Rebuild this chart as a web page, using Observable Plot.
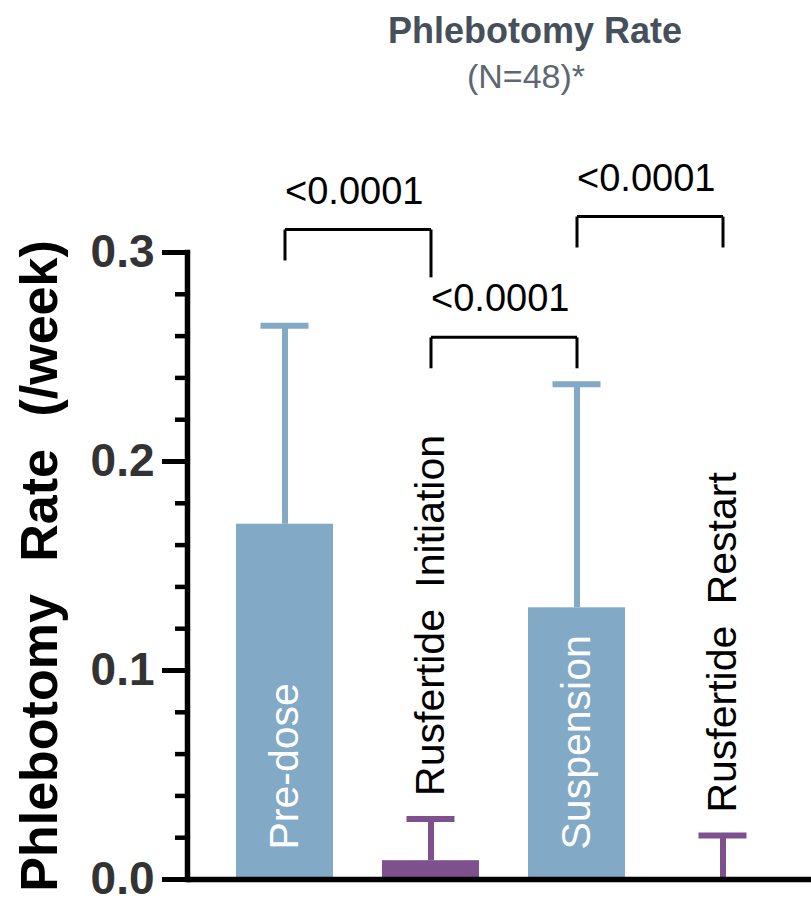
<!DOCTYPE html>
<html>
<head>
<meta charset="utf-8">
<script src="https://cdn.jsdelivr.net/npm/d3@7"></script>
<script src="https://cdn.jsdelivr.net/npm/@observablehq/plot@0.6"></script>
<style>
  html, body { margin: 0; padding: 0; background: #ffffff; }
  #wrap { position: relative; width: 811px; height: 899px; font-family: "Liberation Sans", Arial, sans-serif; }
  #header { position: relative; height: 100px; }
  #title { position: absolute; left: 535px; top: 13px; transform: translateX(-50%); white-space: nowrap;
           font-size: 36px; line-height: 36px; font-weight: bold; color: #46505b; }
  #subtitle { position: absolute; left: 526px; top: 59px; transform: translateX(-50%); white-space: nowrap;
              font-size: 34px; line-height: 34px; color: #5d6772; }
  #chart svg text { word-spacing: 10px; }
  #chart svg g[aria-label="y-axis label"] text { word-spacing: 18px; }
</style>
</head>
<body>
<div id="wrap">
  <div id="header">
    <div id="title">Phlebotomy Rate</div>
    <div id="subtitle">(N=48)*</div>
  </div>
  <div id="chart"></div>
</div>
<script>
// ---- data ----
const categories = ["Pre-dose", "Rusfertide Initiation", "Suspension", "Rusfertide Restart"];
const treatment  = ["Off", "Rusfertide", "Off", "Rusfertide"];
const meanRate   = [0.17, 0.009, 0.13, 0.0];
const upperRate  = [0.265, 0.029, 0.237, 0.021];

const yTicks = [0, 0.1, 0.2, 0.3];
const yMinorTicks = [0.02, 0.04, 0.06, 0.08, 0.12, 0.14, 0.16, 0.18, 0.22, 0.24, 0.26, 0.28];

// pairwise comparisons (brackets)
const compFrom   = ["Pre-dose", "Rusfertide Initiation", "Suspension"];
const compTo     = ["Rusfertide Initiation", "Suspension", "Rusfertide Restart"];
const compLabel  = ["<0.0001", "<0.0001", "<0.0001"];
const compTop    = [0.311, 0.2594, 0.3172];
const compFromEnd = [0.2962, 0.2446, 0.3024];
const compToEnd   = [0.2881, 0.2446, 0.3024];

const blue = "#82a9c6";
const purple = "#7e508d";

// ---- tables built from the arrays ----
const rows = categories.map((c, i) => ({
  category: c, treatment: treatment[i], mean: meanRate[i], upper: upperRate[i]
}));
const inside = rows.filter(d => d.mean >= 0.1);
const above = rows.filter(d => d.mean < 0.1);
const comps = compFrom.map((f, i) => ({
  from: f, to: compTo[i], label: compLabel[i], top: compTop[i], fromEnd: compFromEnd[i], toEnd: compToEnd[i]
}));

const chart = Plot.plot({
  width: 811,
  height: 799,
  marginLeft: 187,
  marginRight: 0,
  marginTop: 152,
  marginBottom: 20,
  style: {fontFamily: "'Liberation Sans', Arial, sans-serif", background: "#ffffff", overflow: "visible"},
  x: {domain: categories, range: [211, 796], paddingInner: 0.335, paddingOuter: 0.1675, axis: null},
  y: {domain: [0, 0.3]},
  color: {domain: ["Off", "Rusfertide"], range: [blue, purple]},
  marks: [
    Plot.barY(rows, {x: "category", y: "mean", fill: "treatment"}),
    Plot.ruleX(rows, {x: "category", y1: "mean", y2: "upper", stroke: "treatment", strokeWidth: 6}),
    Plot.tickY(rows, {x: "category", y: "upper", stroke: "treatment", strokeWidth: 6, insetLeft: 24.5, insetRight: 24.5}),
    Plot.axisY(yTicks, {
      tickSize: 25, tickPadding: 8, tickFormat: d3.format(".1f"),
      fontSize: 46, fontWeight: "bold", stroke: "#000", fill: "#333", strokeWidth: 5, label: null
    }),
    Plot.axisY(yMinorTicks, {tickSize: 12, tickFormat: () => "", stroke: "#000", strokeWidth: 4.5, label: null}),
    Plot.axisY([], {
      label: "Phlebotomy Rate (/week)", labelAnchor: "center", labelOffset: 167, labelArrow: false,
      fontSize: 52, fontWeight: "bold", fill: "#000", tickSize: 0
    }),
    Plot.frame({anchor: "left", stroke: "#000", strokeWidth: 5.5}),
    Plot.ruleY([0], {stroke: "#000", strokeWidth: 5.5}),
    // comparison brackets
    Plot.link(comps, {x1: "from", x2: "to", y1: "top", y2: "top", stroke: "#000", strokeWidth: 3}),
    Plot.link(comps, {x1: "from", x2: "from", y1: "fromEnd", y2: "top", stroke: "#000", strokeWidth: 3}),
    Plot.link(comps, {x1: "to", x2: "to", y1: "toEnd", y2: "top", stroke: "#000", strokeWidth: 3}),
    Plot.text(comps, {x: "from", y: "top", text: "label", textAnchor: "start", lineAnchor: "bottom",
      dy: -26, fontSize: 38, fill: "#000"}),
    // bar labels
    Plot.text(inside, {x: "category", y: 0, text: "category", rotate: -90, textAnchor: "start",
      lineAnchor: "middle", dy: -30, fontSize: 41, fill: "#ffffff"}),
    Plot.text(above, {x: "category", y: "upper", text: "category", rotate: -90, textAnchor: "start",
      lineAnchor: "middle", dy: -23, fontSize: 41, fill: "#000"})
  ]
});
document.getElementById("chart").appendChild(chart);
</script>
</body>
</html>
